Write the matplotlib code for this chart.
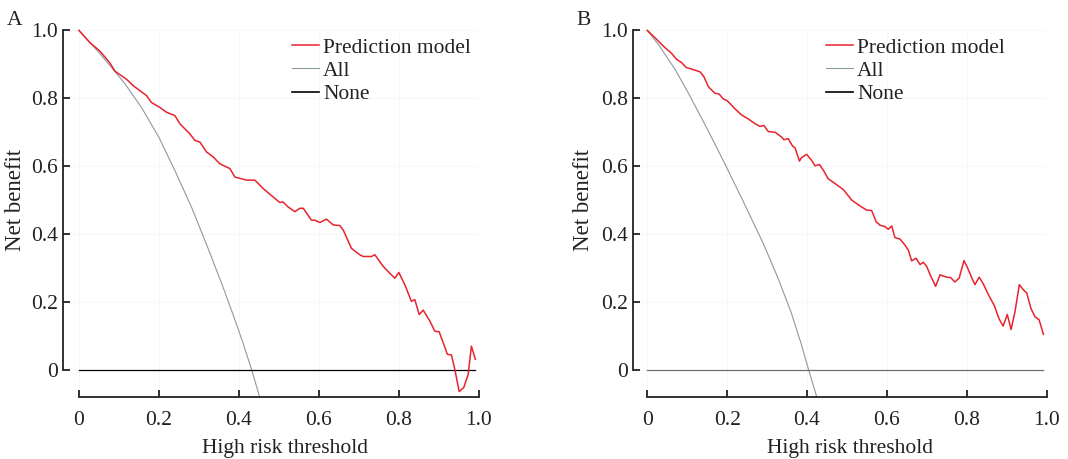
import matplotlib
matplotlib.use("Agg")
from matplotlib import pyplot as plt

# (threshold, net benefit)
pred_a = [(0, 1.0), (0.0275, 0.964), (0.0525, 0.939), (0.0775, 0.904), (0.09, 0.88),
          (0.119, 0.856), (0.136, 0.837), (0.169, 0.808), (0.181, 0.788), (0.2025, 0.773),
          (0.219, 0.759), (0.24, 0.749), (0.2525, 0.725), (0.2775, 0.695), (0.29, 0.676),
          (0.3025, 0.671), (0.319, 0.642), (0.336, 0.627), (0.3525, 0.607), (0.3775, 0.593),
          (0.39, 0.568), (0.419, 0.559), (0.44, 0.559), (0.461, 0.534), (0.49, 0.505),
          (0.5025, 0.493), (0.51, 0.495), (0.523, 0.480), (0.54, 0.466), (0.5525, 0.476),
          (0.561, 0.476), (0.5815, 0.441), (0.59, 0.441), (0.6025, 0.434), (0.619, 0.444),
          (0.636, 0.427), (0.6525, 0.425), (0.661, 0.412), (0.6815, 0.358), (0.7025, 0.339),
          (0.711, 0.334), (0.7315, 0.334), (0.74, 0.339), (0.761, 0.305), (0.773, 0.290),
          (0.79, 0.270), (0.80, 0.287), (0.815, 0.251), (0.8315, 0.202), (0.84, 0.207),
          (0.851, 0.163), (0.861, 0.176), (0.8775, 0.144), (0.89, 0.114), (0.901, 0.112),
          (0.911, 0.080), (0.9215, 0.046), (0.9315, 0.044), (0.94, 0.002), (0.951, -0.064),
          (0.9625, -0.052), (0.9735, -0.013), (0.9815, 0.070), (0.9915, 0.031)]
all_a = [(0, 1.0), (0.05, 0.935), (0.08, 0.893), (0.115, 0.843), (0.157, 0.772),
         (0.2, 0.685), (0.24, 0.587), (0.282, 0.478), (0.32, 0.367), (0.36, 0.245),
         (0.39, 0.148), (0.411, 0.077), (0.432, 0.0), (0.452, -0.08)]

pred_b = [(0, 1.0), (0.023, 0.974), (0.040, 0.954), (0.061, 0.932), (0.073, 0.915),
          (0.086, 0.905), (0.097, 0.891), (0.111, 0.886), (0.132, 0.878), (0.142, 0.863),
          (0.153, 0.834), (0.169, 0.815), (0.180, 0.8125), (0.190, 0.798), (0.200, 0.793),
          (0.2195, 0.769), (0.236, 0.751), (0.253, 0.739), (0.270, 0.725), (0.282, 0.717),
          (0.292, 0.720), (0.303, 0.702), (0.320, 0.700), (0.336, 0.686), (0.342, 0.678),
          (0.353, 0.681), (0.364, 0.659), (0.370, 0.654), (0.381, 0.615), (0.386, 0.625),
          (0.399, 0.635), (0.4115, 0.617), (0.420, 0.601), (0.431, 0.605), (0.441, 0.588),
          (0.453, 0.563), (0.470, 0.549), (0.491, 0.531), (0.512, 0.500), (0.5325, 0.483),
          (0.549, 0.471), (0.562, 0.469), (0.573, 0.4365), (0.583, 0.426), (0.595, 0.422),
          (0.6035, 0.414), (0.612, 0.424), (0.620, 0.390), (0.633, 0.385), (0.645, 0.368),
          (0.654, 0.352), (0.662, 0.321), (0.673, 0.329), (0.683, 0.310), (0.691, 0.317),
          (0.6995, 0.305), (0.7095, 0.277), (0.722, 0.246), (0.733, 0.280), (0.7495, 0.273),
          (0.7596, 0.272), (0.770, 0.259), (0.781, 0.2705), (0.793, 0.322), (0.801, 0.303),
          (0.814, 0.2676), (0.8205, 0.251), (0.831, 0.273), (0.841, 0.254), (0.854, 0.222),
          (0.869, 0.189), (0.881, 0.150), (0.891, 0.129), (0.9015, 0.163), (0.911, 0.119),
          (0.921, 0.173), (0.9316, 0.251), (0.9416, 0.236), (0.950, 0.2266), (0.961, 0.180),
          (0.971, 0.156), (0.981, 0.148), (0.992, 0.1045)]
all_b = [(0, 1.0), (0.03, 0.955), (0.07, 0.884), (0.103, 0.815), (0.15, 0.71),
         (0.19, 0.617), (0.24, 0.497), (0.29, 0.373), (0.325, 0.277), (0.36, 0.17),
         (0.385, 0.078), (0.404, 0.0), (0.427, -0.09)]

none_x = [0, 0.99]
none_y = [0, 0]

ticks = [0, 0.2, 0.4, 0.6, 0.8, 1.0]
tick_labels = ["0", "0.2", "0.4", "0.6", "0.8", "1.0"]

plt.rcParams["font.family"] = ["Liberation Serif", "DejaVu Serif"]
plt.rcParams["font.size"] = 15.5

RED = "#e8232d"
GREY = "#8c99a3"

fig = plt.figure(figsize=(10.68, 4.59), dpi=100)


def panel(rect, pred, allc, xleft, none_color, letter, letter_x, leg_x, ylab_x, xlab_x):
    ax = fig.add_axes(rect)
    ax.grid(True, color="#f7f7f7", lw=0.8)
    ax.set_axisbelow(True)
    ax.plot(*zip(*pred), color=RED, lw=1.1, label="Prediction model", zorder=3)
    ax.plot(*zip(*allc), color=GREY, lw=0.8, label="All", zorder=2)
    ax.plot(none_x, none_y, color=none_color, lw=0.9, zorder=2)
    ax.plot([], [], color="black", lw=1.2, label="None")

    ax.set_xlim(xleft, 1.0)
    ax.set_ylim(-0.08, 1.003)
    for s in ("top", "right"):
        ax.spines[s].set_visible(False)
    ax.spines["left"].set_bounds(0, 1)
    ax.spines["bottom"].set_bounds(0, 1)
    for s in ("left", "bottom"):
        ax.spines[s].set_linewidth(1.3)
        ax.spines[s].set_color("#222222")
    ax.set_xticks(ticks)
    ax.set_xticklabels(tick_labels)
    ax.set_yticks(ticks)
    ax.set_yticklabels(tick_labels)
    ax.tick_params(direction="in", length=5, width=1.3, color="#222222", labelcolor="#222222")
    ax.tick_params(axis="x", pad=10)
    ax.tick_params(axis="y", pad=4)

    ax.set_xlabel("High risk threshold", color="#222222")
    ax.set_ylabel("Net benefit", color="#222222", fontsize=16.5)
    ax.xaxis.set_label_coords(xlab_x, -0.114)
    ax.yaxis.set_label_coords(ylab_x, 0.536)

    leg = ax.legend(loc="upper left", bbox_to_anchor=(leg_x, 0.978), frameon=False,
                    handlelength=1.25, handletextpad=0.2, labelspacing=0.15,
                    borderpad=0, borderaxespad=0)
    for t in leg.get_texts():
        t.set_color("#222222")
    fig.text(letter_x, 0.955, letter, ha="center", va="center", color="#222222")
    return ax


panel([0.0593, 0.135, 0.389, 0.801], pred_a, all_a, -0.039, "black", "A", 0.014,
      0.55, -0.089, 0.534)
panel([0.593, 0.135, 0.387, 0.801], pred_b, all_b, -0.035, "#6f6f6f", "B", 0.546,
      0.466, -0.095, 0.525)

fig.savefig("out.png", dpi=100)
